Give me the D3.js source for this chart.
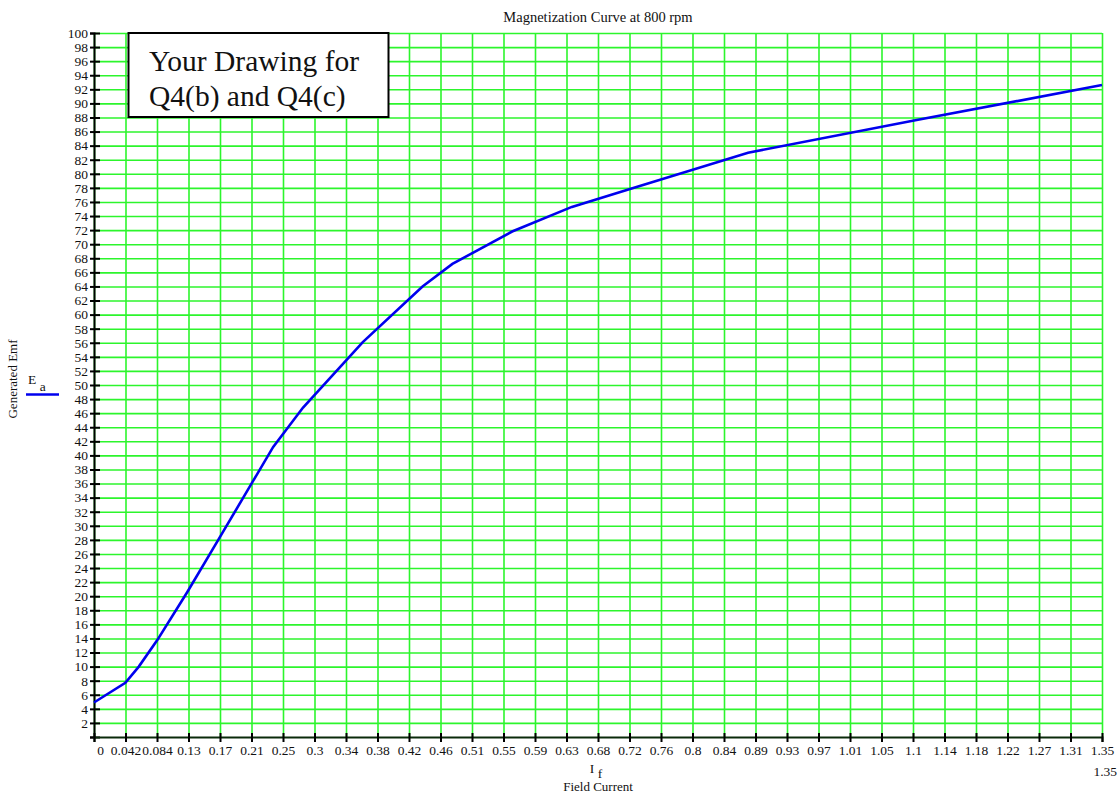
<!DOCTYPE html>
<html>
<head>
<meta charset="utf-8">
<style>
    body { margin: 0; background: #fff; }
    text { font-family: "Liberation Serif", "Times New Roman", serif; fill: #111; }
</style>
<script src="https://d3js.org/d3.v7.min.js"></script>
</head>
<body>
<script>

// field current (A) and generated emf (V)
let fieldCurrent = [0, 0.042, 0.06, 0.085, 0.125, 0.167, 0.24, 0.28, 0.36, 0.44, 0.48, 0.56, 0.64, 0.72, 0.876, 1.1, 1.35];
let emf          = [4.9, 7.7, 10.0, 13.8, 20.6, 28.1, 41.2, 46.8, 56.1, 64.0, 67.2, 71.8, 75.3, 77.9, 83.0, 87.6, 92.6];

// x tick labels as printed (32 equal steps of 1.35/32)
let xTickLabels = ["0", "0.042", "0.084", "0.13", "0.17", "0.21", "0.25", "0.3", "0.34", "0.38",
    "0.42", "0.46", "0.51", "0.55", "0.59", "0.63", "0.68", "0.72", "0.76", "0.8", "0.84",
    "0.89", "0.93", "0.97", "1.01", "1.05", "1.1", "1.14", "1.18", "1.22", "1.27", "1.31", "1.35"];
// y ticks every 2 from 0 to 100 (0 has no label)
let yTicks = d3.range(0, 101, 2);

let width = 1120, height = 799;
let margin = {left: 94, right: 18, top: 33, bottom: 62};

let svg = d3.select("body").append("svg")
    .attr("width", width)
    .attr("height", height);

let x = d3.scaleLinear()
    .domain([0, 1.35])
    .range([margin.left, width - margin.right]);
let y = d3.scaleLinear()
    .domain([0, 100])
    .range([height - margin.bottom, margin.top]);

let xTicks = xTickLabels.map((_, i) => 1.35 * i / (xTickLabels.length - 1));
let gridColor = "#2cf52c";

// vertical grid
svg.append("g")
    .attr("transform", `translate(0,${margin.top})`)
    .call(d3.axisBottom(x).tickValues(xTicks).tickSize(y(0) - y(100)).tickFormat(""))
    .call(g => g.select(".domain").remove())
    .call(g => g.selectAll("line").attr("stroke", gridColor).attr("stroke-width", 1.6));

// horizontal grid
svg.append("g")
    .attr("transform", `translate(${margin.left},0)`)
    .call(d3.axisRight(y).tickValues(yTicks.slice(1)).tickSize(x(1.35) - x(0)).tickFormat(""))
    .call(g => g.select(".domain").remove())
    .call(g => g.selectAll("line").attr("stroke", gridColor).attr("stroke-width", 1.6));

// y axis
svg.append("g")
    .attr("transform", `translate(${margin.left},0)`)
    .call(d3.axisLeft(y).tickValues(yTicks).tickSize(4).tickPadding(2)
        .tickFormat(d => d === 0 ? "" : d))
    .call(g => g.select(".domain").attr("stroke", "#000").attr("stroke-width", 2))
    .call(g => g.selectAll(".tick line").attr("stroke", "#000").attr("stroke-width", 2).attr("x2", 6).attr("x1", -4))
    .call(g => g.selectAll("text").attr("font-size", 13.5).attr("font-family", "Liberation Serif").attr("fill", "#111"));

// x axis
svg.append("g")
    .attr("transform", `translate(0,${y(0)})`)
    .call(d3.axisBottom(x).tickValues(xTicks).tickSize(5).tickPadding(3)
        .tickFormat((d, i) => xTickLabels[i]))
    .call(g => g.select(".domain").attr("stroke", "#0a2a0a").attr("stroke-width", 2))
    .call(g => g.selectAll(".tick line").attr("stroke", "#000").attr("stroke-width", 2).attr("y1", -4))
    .call(g => g.selectAll("text").attr("font-size", 13.5).attr("font-family", "Liberation Serif").attr("fill", "#111"))
    .call(g => g.select(".tick text").attr("dx", 6));

// curve
let line = d3.line()
    .x((d, i) => x(fieldCurrent[i]))
    .y(d => y(d));
svg.append("path")
    .datum(emf)
    .attr("d", line)
    .attr("fill", "none")
    .attr("stroke", "#0000ee")
    .attr("stroke-width", 2.6);

// title
svg.append("text")
    .attr("x", 598).attr("y", 22)
    .attr("text-anchor", "middle")
    .attr("font-size", 14.5)
    .text("Magnetization Curve at 800 rpm");

// x axis labels
svg.append("text")
    .attr("x", x(1.35) + 15).attr("y", 776)
    .attr("text-anchor", "end")
    .attr("font-size", 13.5)
    .text("1.35");
let ifLabel = svg.append("text")
    .attr("x", 596).attr("y", 773)
    .attr("text-anchor", "middle")
    .attr("font-size", 13.5);
ifLabel.append("tspan").text("I ");
ifLabel.append("tspan").attr("dy", 5).text("f");
svg.append("text")
    .attr("x", 598).attr("y", 791)
    .attr("text-anchor", "middle")
    .attr("font-size", 13)
    .text("Field Current");

// y axis label + legend
svg.append("text")
    .attr("transform", "translate(17,379) rotate(-90)")
    .attr("text-anchor", "middle")
    .attr("font-size", 13)
    .text("Generated Emf");
let eaLabel = svg.append("text")
    .attr("x", 28).attr("y", 384)
    .attr("font-size", 13.5);
eaLabel.append("tspan").text("E ");
eaLabel.append("tspan").attr("dy", 7).text("a");
svg.append("line")
    .attr("x1", 26).attr("x2", 59)
    .attr("y1", 394.5).attr("y2", 394.5)
    .attr("stroke", "#0000ee")
    .attr("stroke-width", 2.6);

// annotation box
svg.append("rect")
    .attr("x", 128.5).attr("y", 33)
    .attr("width", 260).attr("height", 84)
    .attr("fill", "#fff")
    .attr("stroke", "#000")
    .attr("stroke-width", 2);
svg.append("text")
    .attr("x", 149).attr("y", 71)
    .attr("font-size", 29.5)
    .text("Your Drawing for");
svg.append("text")
    .attr("x", 149).attr("y", 106)
    .attr("font-size", 29.5)
    .text("Q4(b) and Q4(c)");
</script>
</body>
</html>
